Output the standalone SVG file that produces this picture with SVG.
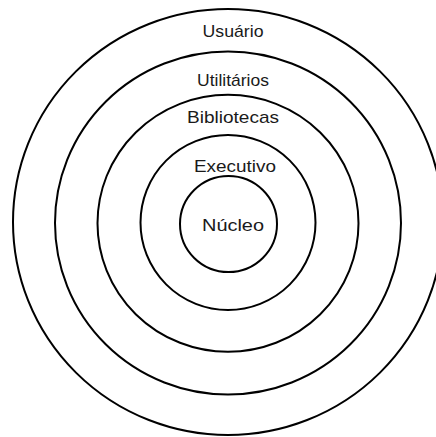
<svg xmlns="http://www.w3.org/2000/svg" width="436" height="437" viewBox="0 0 436 437">
<style>
.ring{fill:none;stroke:#000;stroke-width:2}
.lbl{font-family:"Liberation Sans",Arial,sans-serif;font-size:17px;fill:#1a1a1a;text-anchor:middle}
</style>
<rect width="436" height="437" fill="#fff"/>
<g id="usuario">
<ellipse class="ring" cx="228" cy="222" rx="215" ry="213"/>
<text class="lbl" x="233" y="37" textLength="61" lengthAdjust="spacingAndGlyphs">Usuário</text>
</g>
<g id="utilitarios">
<ellipse class="ring" cx="228" cy="223" rx="173" ry="171.5"/>
<text class="lbl" x="233" y="86" textLength="72" lengthAdjust="spacingAndGlyphs">Utilitários</text>
</g>
<g id="bibliotecas">
<ellipse class="ring" cx="228" cy="223.3" rx="130.5" ry="128.5"/>
<text class="lbl" x="233" y="122.5" textLength="92" lengthAdjust="spacingAndGlyphs">Bibliotecas</text>
</g>
<g id="executivo">
<ellipse class="ring" cx="228" cy="222.5" rx="87.5" ry="87.5"/>
<text class="lbl" x="235" y="172" textLength="82" lengthAdjust="spacingAndGlyphs">Executivo</text>
</g>
<g id="nucleo">
<ellipse class="ring" cx="228.5" cy="224" rx="48.5" ry="48"/>
<text class="lbl" x="233" y="230.5" textLength="62" lengthAdjust="spacingAndGlyphs">Núcleo</text>
</g>
<g id="connectors"></g>
</svg>
